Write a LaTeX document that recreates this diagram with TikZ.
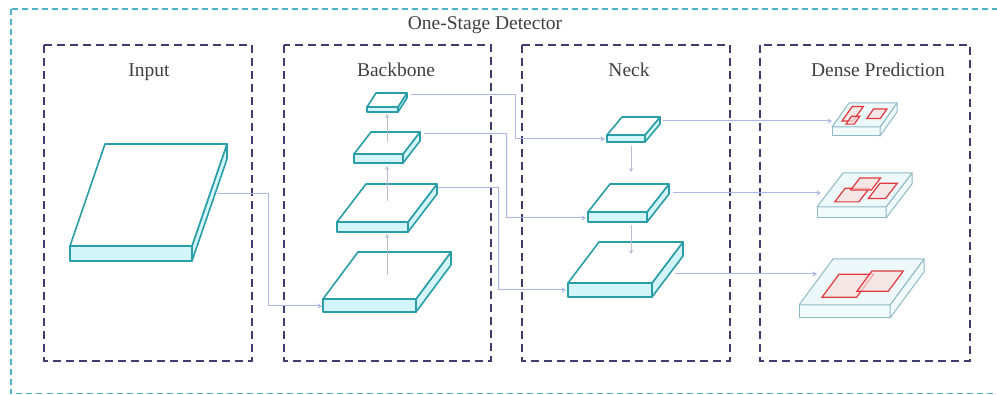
\documentclass[tikz,border=0pt]{standalone}
\usepackage{fontspec}
\setmainfont{Liberation Serif}
\usetikzlibrary{arrows.meta}
\definecolor{outerc}{HTML}{4DB3C4}
\definecolor{innerc}{HTML}{3D3D72}
\definecolor{teal1}{HTML}{2A9EA8}
\definecolor{frontc}{HTML}{D3F5FA}
\definecolor{topc}{HTML}{FFFFFF}
\definecolor{dedge}{HTML}{8DBAC4}
\definecolor{dtop}{HTML}{EDF8FA}
\definecolor{dfront}{HTML}{F2FBFC}
\definecolor{redc}{HTML}{E0383C}
\definecolor{redf}{HTML}{FBE0E0}
\definecolor{connc}{HTML}{AEB8E6}
\definecolor{vconnc}{HTML}{B9BDD2}
\definecolor{txtc}{HTML}{404040}
\newcommand\myslab[8]{%
  \path[#7 front] (#1,#2) rectangle ({#1+#3},{#2+#6});
  \path[#7 side] ({#1+#3},#2) -- ({#1+#3+#4},{#2-#5}) -- ({#1+#3+#4},{#2-#5+#6}) -- ({#1+#3},{#2+#6}) -- cycle;
  \path[#7 top] (#1,#2) -- ({#1+#3},#2) -- ({#1+#3+#4},{#2-#5}) -- ({#1+#4},{#2-#5}) -- cycle;
  \coordinate (#8-c) at ({#1+0.5*#3+0.5*#4},{#2-0.5*#5});
}
\newcommand\rbox[9]{%
  \path[redbox] ({#1+#6*#3+#8*#4},{#2-#8*#5}) -- ({#1+#7*#3+#8*#4},{#2-#8*#5}) -- ({#1+#7*#3+#9*#4},{#2-#9*#5}) -- ({#1+#6*#3+#9*#4},{#2-#9*#5}) -- cycle;
}
\begin{document}
\begin{tikzpicture}[x=1pt,y=-1pt,
  outerbox/.style={draw=outerc,line width=1.1pt,dash pattern=on 6pt off 4pt},
  stagebox/.style={draw=innerc,line width=2.3pt,dash pattern=on 8pt off 5pt},
  lbl/.style={text=txtc,font=\fontsize{19.5}{23}\selectfont,anchor=base,inner sep=0pt},
  sl front/.style={draw=teal1,line width=1.6pt,line join=round,fill=frontc},
  sl side/.style={draw=teal1,line width=1.6pt,line join=round,fill=frontc},
  sl top/.style={draw=teal1,line width=1.6pt,line join=round,fill=topc},
  ds front/.style={draw=dedge,line width=1pt,line join=round,fill=dfront},
  ds side/.style={draw=dedge,line width=1pt,line join=round,fill=dfront},
  ds top/.style={draw=dedge,line width=1pt,line join=round,fill=dtop},
  redbox/.style={draw=redc,line width=1.2pt,fill=redf,fill opacity=0.7,draw opacity=1},
  conn/.style={draw=connc,line width=1pt,-{Stealth[length=4.5pt,width=5pt]}},
  vconn/.style={draw=vconnc,line width=1pt,-{Stealth[length=4pt,width=4.5pt]}}]
\useasboundingbox (0,0) rectangle (997,395);
\clip (0,0) rectangle (997,395);
\fill[white] (0,0) rectangle (997,395);
% outer frame
\path[outerbox] (11,9) rectangle (1010,393.5);
\node[lbl] (title) at (485,30) {One-Stage Detector};
% stage boxes
\path[stagebox] (44,45) rectangle (252,361);
\path[stagebox] (284,45) rectangle (491,361);
\path[stagebox] (522,45) rectangle (730,361);
\path[stagebox] (760,45) rectangle (970,361);
\node[lbl] (linput) at (149,77) {Input};
\node[lbl] (lback) at (396,77) {Backbone};
\node[lbl] (lneck) at (629,77) {Neck};
\node[lbl] (ldense) at (878,77) {Dense Prediction};
% input
\myslab{70}{246}{122}{35}{102}{15}{sl}{IN}
% backbone
\myslab{367}{107}{31}{9}{14}{5}{sl}{B1}
\myslab{354}{154}{49}{17}{22}{9}{sl}{B2}
\myslab{337}{222}{71}{29}{38}{10}{sl}{B3}
\myslab{323}{299}{93}{35}{47}{13}{sl}{B4}
% neck
\myslab{607}{135}{38}{15}{18}{7}{sl}{N1}
\myslab{588}{212}{59}{22}{28}{10}{sl}{N2}
\myslab{568}{283}{84}{31}{41}{14}{sl}{N3}
% dense prediction
\myslab{832}{127}{48}{17}{24}{9}{ds}{D1}
\myslab{817}{207}{69}{26}{34}{11}{ds}{D2}
\myslab{799}{305}{91}{34}{46}{13}{ds}{D3}
\rbox{832}{127}{48}{17}{24}{0.12}{0.35}{0.25}{0.85}
\rbox{832}{127}{48}{17}{24}{0.60}{0.88}{0.35}{0.75}
\rbox{832}{127}{48}{17}{24}{0.25}{0.42}{0.12}{0.45}
\rbox{817}{207}{69}{26}{34}{0.20}{0.55}{0.15}{0.55}
\rbox{817}{207}{69}{26}{34}{0.30}{0.60}{0.50}{0.85}
\rbox{817}{207}{69}{26}{34}{0.65}{0.90}{0.25}{0.70}
\rbox{799}{305}{91}{34}{46}{0.19}{0.57}{0.17}{0.67}
\rbox{799}{305}{91}{34}{46}{0.525}{0.87}{0.30}{0.74}
% connector end points
\coordinate (IN-out) at (217,194);
\coordinate (B4-in) at (322,306);
\coordinate (B1-out) at (411,95);
\coordinate (B2-out) at (424,134);
\coordinate (B3-out) at (438,188);
\coordinate (N1-in) at (605,139);
\coordinate (N2-in) at (586,218);
\coordinate (N3-in) at (566,290);
\coordinate (N1-out) at (663,121);
\coordinate (N2-out) at (673,193);
\coordinate (N3-out) at (675,274);
\coordinate (D1-in) at (832,121);
\coordinate (D2-in) at (821,193);
\coordinate (D3-in) at (817,274);
\coordinate (B4-u) at (387,275);
\coordinate (B3-d) at (387,234);
\coordinate (B3-u) at (387,201);
\coordinate (B2-d) at (387,166);
\coordinate (B2-u) at (387,142);
\coordinate (B1-d) at (387,114);
\coordinate (N1-d) at (631,146);
\coordinate (N2-t) at (631,172);
\coordinate (N2-d) at (631,225);
\coordinate (N3-t) at (631,254);
% connectors
\draw[conn] (IN-out) -- ++(51,0) |- (B4-in);
\draw[conn] (B1-out) -- ++(104,0) |- (N1-in);
\draw[conn] (B2-out) -- ++(82,0) |- (N2-in);
\draw[conn] (B3-out) -- ++(60,0) |- (N3-in);
\draw[conn] (N1-out) -- (D1-in);
\draw[conn] (N2-out) -- (D2-in);
\draw[conn] (N3-out) -- (D3-in);
\draw[vconn] (B4-u) -- (B3-d);
\draw[vconn] (B3-u) -- (B2-d);
\draw[vconn] (B2-u) -- (B1-d);
\draw[vconn] (N1-d) -- (N2-t);
\draw[vconn] (N2-d) -- (N3-t);
\end{tikzpicture}
\end{document}
